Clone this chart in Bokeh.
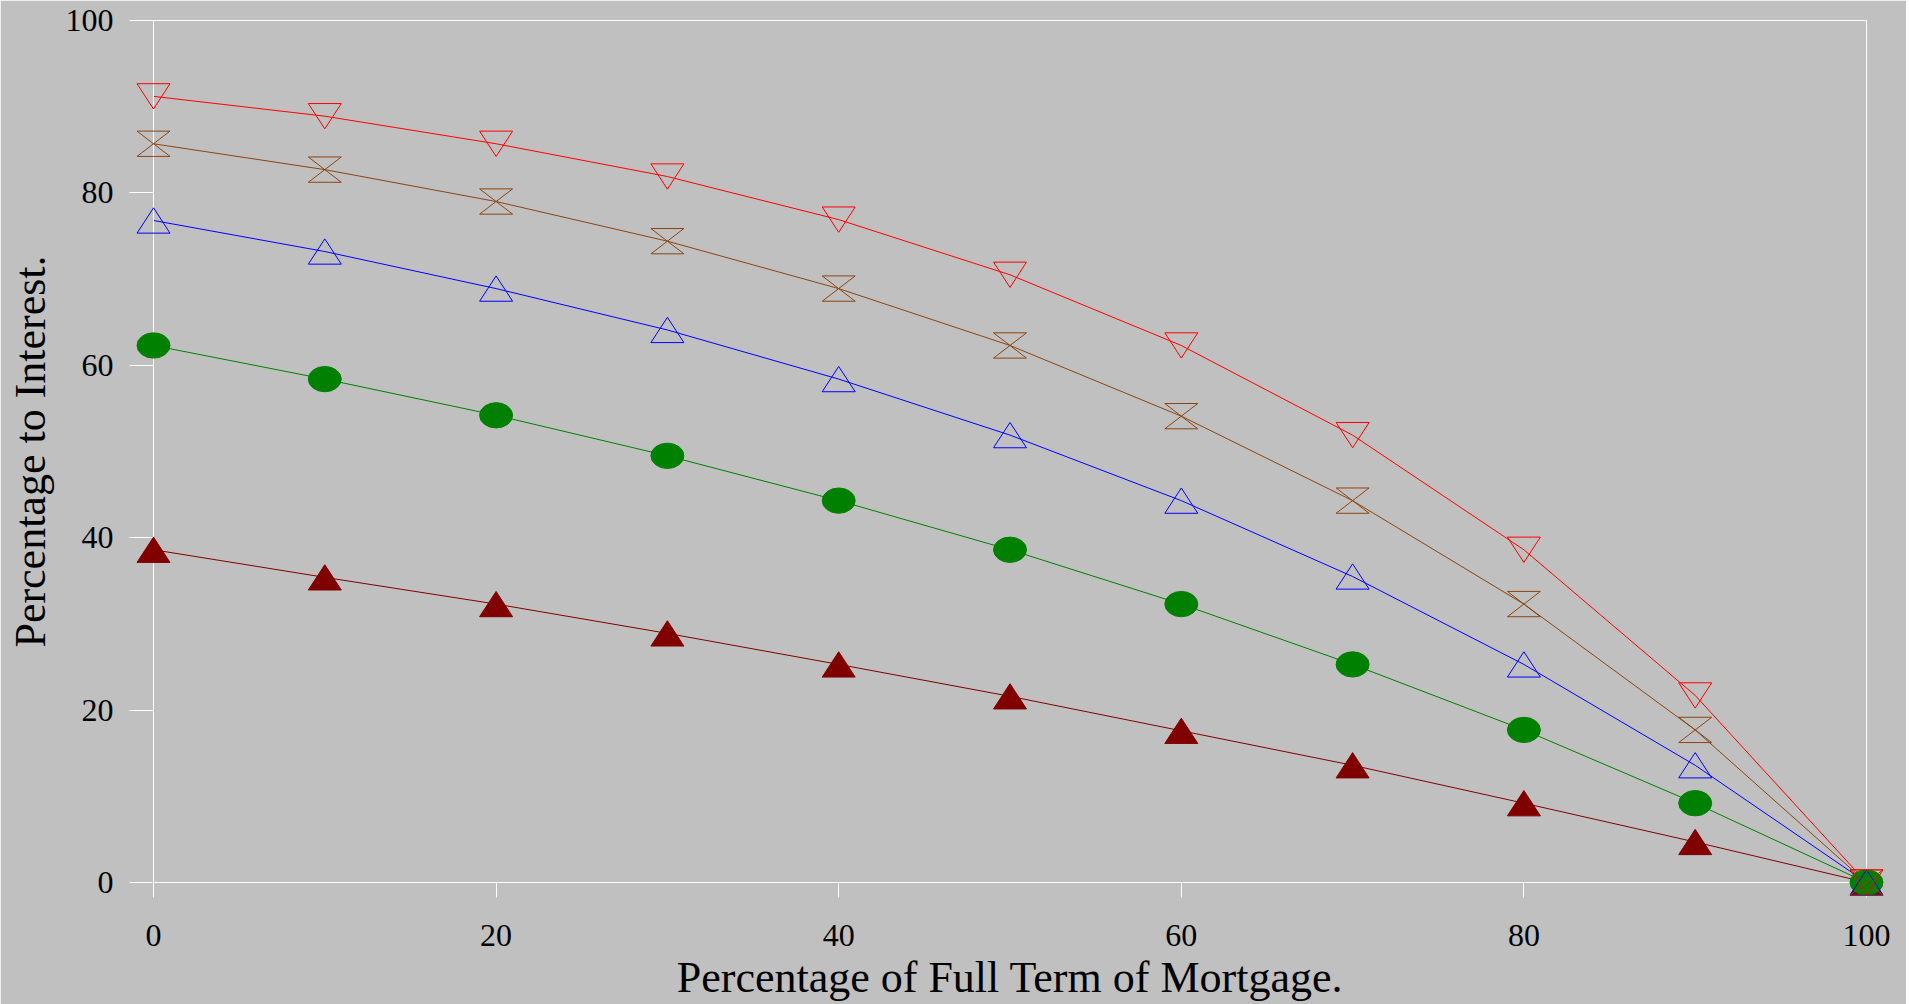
from bokeh.plotting import figure
from bokeh.models import Range1d, FixedTicker
from bokeh.embed import file_html
from bokeh.resources import INLINE

# ---- data ----
term_pct = [0, 10, 20, 30, 40, 50, 60, 70, 80, 90, 100]
series_red = [91.2, 88.9, 85.7, 81.9, 76.9, 70.5, 62.3, 51.9, 38.6, 21.7, 0]
series_brown = [85.7, 82.7, 79.0, 74.4, 68.9, 62.3, 54.1, 44.3, 32.3, 17.7, 0]
series_blue = [76.8, 73.2, 68.9, 64.1, 58.4, 51.9, 44.3, 35.5, 25.3, 13.6, 0]
series_green = [62.3, 58.4, 54.2, 49.5, 44.3, 38.6, 32.3, 25.3, 17.7, 9.2, 0]
series_darkred = [38.6, 35.4, 32.3, 28.9, 25.3, 21.6, 17.6, 13.6, 9.2, 4.7, 0]
x_ticks = [0, 20, 40, 60, 80, 100]
y_ticks = [0, 20, 40, 60, 80, 100]
x_title = "Percentage of Full Term of Mortgage."
y_title = "Percentage to Interest."

# ---- layout ----
FW, FH = 1713, 862
X0, X1, Y0, Y1 = 0, 100, 0, 100
BG = "#c0c0c0"
FONT = "Liberation Serif"

p = figure(frame_width=FW, frame_height=FH,
           min_border_left=153, min_border_right=40,
           min_border_top=20, min_border_bottom=110,
           x_range=Range1d(X0, X1), y_range=Range1d(Y0, Y1),
           output_backend="svg", toolbar_location=None)

p.background_fill_color = BG
p.border_fill_color = BG
p.outline_line_color = "white"
p.outline_line_width = 1
p.xgrid.visible = False
p.ygrid.visible = False

for ax in (p.xaxis[0], p.yaxis[0]):
    ax.axis_line_color = "white"
    ax.major_tick_line_color = "white"
    ax.minor_tick_line_color = None
    ax.major_tick_in = 0
    ax.major_label_text_font = FONT
    ax.major_label_text_font_size = "32px"
    ax.major_label_text_color = "black"
    ax.axis_label_text_font = FONT
    ax.axis_label_text_font_size = "44px"
    ax.axis_label_text_font_style = "normal"
    ax.axis_label_text_color = "black"

p.xaxis[0].ticker = FixedTicker(ticks=x_ticks)
p.yaxis[0].ticker = FixedTicker(ticks=y_ticks)
p.xaxis[0].major_tick_out = 15
p.yaxis[0].major_tick_out = 24
p.xaxis[0].major_label_standoff = 27
p.yaxis[0].major_label_standoff = 16
p.xaxis[0].axis_label_standoff = 4
p.yaxis[0].axis_label_standoff = 8
p.xaxis[0].axis_label = x_title
p.yaxis[0].axis_label = y_title

# marker half-size in screen px, converted to data units via the fixed frame
HW_PX, HH_PX = 16.5, 12.65
dx = HW_PX * (X1 - X0) / FW
dy = HH_PX * (Y1 - Y0) / FH


def tri_up(xs, ys):
    return ([[x - dx, x + dx, x] for x in xs],
            [[y - dy, y - dy, y + dy] for y in ys])


def tri_down(xs, ys):
    return ([[x - dx, x + dx, x] for x in xs],
            [[y + dy, y + dy, y - dy] for y in ys])


def hourglass(xs, ys):
    return ([[x - dx, x + dx, x - dx, x + dx] for x in xs],
            [[y + dy, y + dy, y - dy, y - dy] for y in ys])


LVL = "overlay"  # markers drawn unclipped, like the reference

# dark red filled triangles
p.line(term_pct, series_darkred, line_color="#800000", line_width=1)
mx, my = tri_up(term_pct, series_darkred)
p.patches(mx, my, fill_color="#800000", line_color="#800000", line_width=1, level=LVL)

# green filled ellipses
p.line(term_pct, series_green, line_color="#008000", line_width=1)
p.ellipse(term_pct, series_green, width=33, height=25.3,
          width_units="screen", height_units="screen",
          fill_color="#008000", line_color="#008000", level=LVL)

# blue open triangles
p.line(term_pct, series_blue, line_color="#0000ff", line_width=1)
mx, my = tri_up(term_pct, series_blue)
p.patches(mx, my, fill_alpha=0, line_color="#0000ff", line_width=1, level=LVL)

# brown hourglasses
p.line(term_pct, series_brown, line_color="#8b4513", line_width=1)
mx, my = hourglass(term_pct, series_brown)
p.patches(mx, my, fill_alpha=0, line_color="#8b4513", line_width=1, level=LVL)

# red open inverted triangles
p.line(term_pct, series_red, line_color="#ff0000", line_width=1)
mx, my = tri_down(term_pct, series_red)
p.patches(mx, my, fill_alpha=0, line_color="#ff0000", line_width=1, level=LVL)

open("out.html", "w").write(file_html(p, INLINE))
